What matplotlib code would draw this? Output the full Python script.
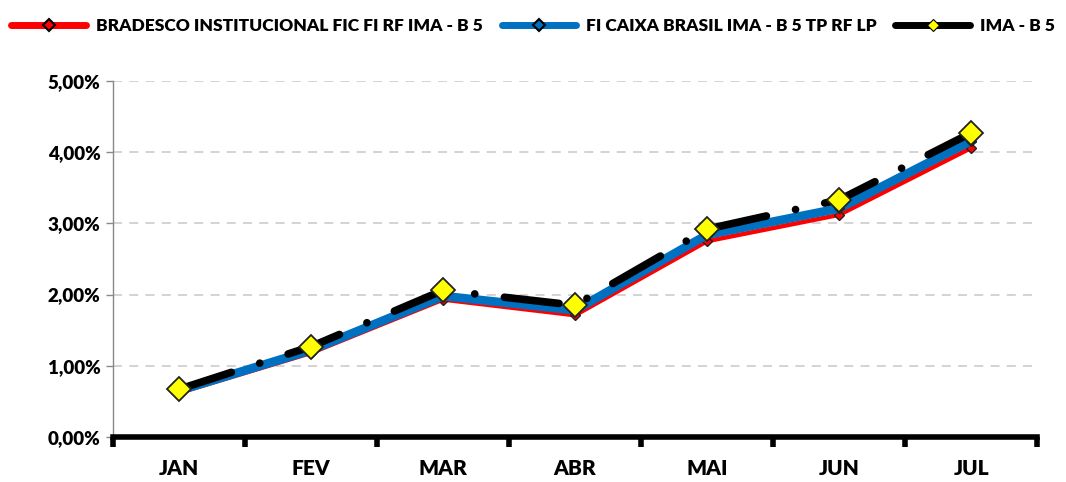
import matplotlib
matplotlib.use("Agg")
import matplotlib.pyplot as plt
from matplotlib.ticker import FixedLocator, FuncFormatter
from matplotlib.lines import Line2D

months = ["JAN", "FEV", "MAR", "ABR", "MAI", "JUN", "JUL"]
bradesco = [0.62, 1.18, 1.93, 1.71, 2.75, 3.12, 4.06]
caixa = [0.65, 1.22, 1.98, 1.78, 2.84, 3.21, 4.16]
ima_b5 = [0.67, 1.27, 2.06, 1.85, 2.92, 3.33, 4.27]
yticks = [0, 1, 2, 3, 4, 5]
names = ["BRADESCO INSTITUCIONAL FIC FI RF IMA - B 5",
         "FI CAIXA BRASIL IMA - B 5 TP RF LP",
         "IMA - B 5"]

plt.rcParams['font.family'] = ['Lato', 'DejaVu Sans']
W = "heavy"

fig = plt.figure(figsize=(10.66, 4.82), dpi=100)
ax = fig.add_axes([0.106, 0.0934, 0.867, 0.7386])

x = [i + 0.5 for i in range(len(months))]

ax.plot(x, bradesco, color="#FF0000", lw=3.2, marker="D", ms=5,
        mfc="#FF0000", mec="#222222", mew=1.0, zorder=3)
ax.plot(x, caixa, color="#0070C0", lw=6.3, marker="D", ms=5,
        mfc="#0070C0", mec="#222222", mew=1.0, zorder=4)
ax.plot(x, ima_b5, color="black", lw=5.5, linestyle=(0, (7.2, 3.9, 0.01, 3.9)),
        dash_capstyle="round", solid_capstyle="round", marker="D", ms=12,
        mfc="#FFFF00", mec="#222222", mew=1.3, zorder=5)

ax.set_xlim(0, 7)
ax.set_ylim(0, 5)

ax.xaxis.set_major_locator(FixedLocator(range(0, 8)))
ax.xaxis.set_minor_locator(FixedLocator(x))
ax.set_xticklabels([""] * 8)
ax.set_xticklabels(months, minor=True)
ax.tick_params(axis="x", which="major", length=7, width=4, color="black", direction="out")
ax.tick_params(axis="x", which="minor", length=0, pad=16, labelsize=15)
for lbl in ax.get_xticklabels(minor=True):
    lbl.set_fontweight(W)

ax.yaxis.set_major_locator(FixedLocator(yticks))
ax.yaxis.set_major_formatter(FuncFormatter(lambda v, p: f"{v:.2f}%".replace(".", ",")))
ax.tick_params(axis="y", length=5, width=1, color="#888888", labelsize=13.5, pad=4)
for lbl in ax.get_yticklabels():
    lbl.set_fontweight(W)

ax.grid(axis="y", color="#D0D0D0", linestyle=(0, (5, 4)), lw=1.3)
ax.set_axisbelow(True)

for s in ["top", "right"]:
    ax.spines[s].set_visible(False)
ax.spines["left"].set_color("#888888")
ax.spines["left"].set_linewidth(1)
ax.spines["bottom"].set_color("black")
ax.spines["bottom"].set_linewidth(4)

handles = [
    Line2D([], [], color="#FF0000", lw=5, solid_capstyle="round", marker="D", ms=6,
           mfc="#FF0000", mec="black", mew=1.5),
    Line2D([], [], color="#0070C0", lw=5, solid_capstyle="round", marker="D", ms=6,
           mfc="#0070C0", mec="black", mew=1.5),
    Line2D([], [], color="black", lw=5, solid_capstyle="round", marker="D", ms=6,
           mfc="#FFFF00", mec="black", mew=0.8),
]
leg = fig.legend(handles, names, loc="upper center", bbox_to_anchor=(0.5, 0.995), ncol=3,
                 frameon=False, handlelength=4.3, columnspacing=1.1, handletextpad=0.55,
                 prop={"weight": W, "size": 12.5})

fig.savefig("out.png", dpi=100)
